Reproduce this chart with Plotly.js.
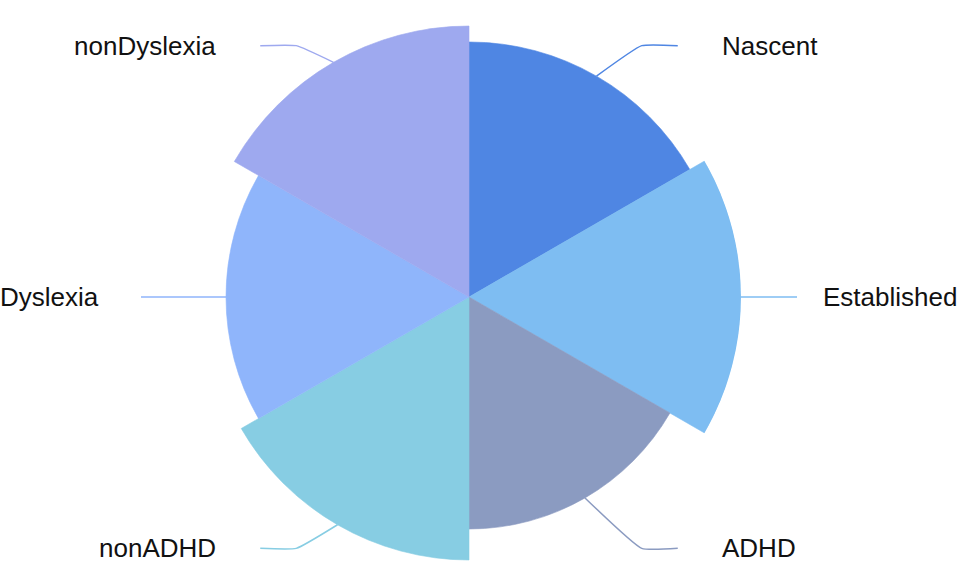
<!DOCTYPE html>
<html>
<head>
<meta charset="utf-8">
<script src="https://cdn.plot.ly/plotly-3.0.1.min.js"></script>
<style>
  html, body { margin: 0; padding: 0; background: #fff; }
  #chart { width: 957px; height: 569px; }
</style>
</head>
<body>
<div id="chart"></div>
<script>
// Rose chart data (radius of each sector)
const categories = ['Nascent', 'Established', 'ADHD', 'nonADHD', 'Dyslexia', 'nonDyslexia'];
const values = [255, 272, 232, 263, 243, 271];
const colors = ['#4f86e3', '#7ebdf2', '#8b9bc1', '#87cde3', '#8fb5fb', '#9ea9ef'];

const W = 957, H = 569;
const cx = 469, cy = 297;   // centre of the rose in px
const R = 272;              // outer radius in px (= radial range max, so 1 unit = 1 px)

// each sector is 60deg wide, centred on 30, 90, 150 ...
const thetas = categories.map((c, i) => 30 + 60 * i);

const rad = d => d * Math.PI / 180;

// leader lines: edge -> elbow -> short horizontal run, then the label
const leaderTraces = [];
const annotations = [];
const elbowR = 305;
categories.forEach((name, i) => {
  const a = thetas[i];
  const s = Math.sin(rad(a)), c = Math.cos(rad(a));
  const side = s > 0 ? 1 : -1;
  const x0 = values[i] * s, y0 = values[i] * c;
  let xs, ys, xEnd, yEnd, gap;
  if (Math.abs(c) < 1e-6) {
    // sector pointing straight left/right: one straight line
    xEnd = side * 328; yEnd = 0;
    xs = [x0, xEnd]; ys = [y0, yEnd];
    gap = side > 0 ? 24 : 40;
  } else {
    const tilt = (s * c > 0 ? 1 : -1) * 4.5;
    const ae = a + tilt;
    const xe = elbowR * Math.sin(rad(ae)), ye = elbowR * Math.cos(rad(ae));
    xEnd = xe + side * 36; yEnd = ye;
    xs = [x0, xe, xEnd]; ys = [y0, ye, yEnd];
    gap = 42;
  }
  leaderTraces.push({
    type: 'scatter', mode: 'lines', x: xs, y: ys,
    line: { color: colors[i], width: 1.5, shape: 'spline', smoothing: 0.4 },
    hoverinfo: 'skip', showlegend: false
  });
  annotations.push({
    xref: 'x', yref: 'y', x: xEnd + side * gap, y: yEnd,
    text: name, showarrow: false,
    xanchor: side > 0 ? 'left' : 'right', yanchor: 'middle',
    font: { family: 'Liberation Sans, Arial, sans-serif', size: 26, color: '#111' }
  });
});

const rose = {
  type: 'barpolar',
  r: values,
  theta: thetas,
  width: categories.map(() => 60),
  marker: { color: colors, line: { color: colors, width: 0.6 } },
  hoverinfo: 'skip',
  showlegend: false
};

const layout = {
  width: W, height: H,
  margin: { l: 0, r: 0, t: 0, b: 0 },
  paper_bgcolor: '#fff',
  plot_bgcolor: 'rgba(0,0,0,0)',
  showlegend: false,
  xaxis: { range: [-cx, W - cx], visible: false, fixedrange: true },
  yaxis: { range: [-(H - cy), cy], visible: false, fixedrange: true },
  polar: {
    domain: { x: [(cx - R) / W, (cx + R) / W], y: [0, 1 - (cy - R) / H] },
    bgcolor: 'rgba(0,0,0,0)',
    bargap: 0,
    radialaxis: { range: [0, R], visible: false, showgrid: false, showline: false, showticklabels: false, ticks: '' },
    angularaxis: { rotation: 90, direction: 'clockwise', visible: false, showgrid: false, showline: false, showticklabels: false, ticks: '' }
  },
  annotations: annotations
};

Plotly.newPlot('chart', [rose, ...leaderTraces], layout, { staticPlot: true });
</script>
</body>
</html>
